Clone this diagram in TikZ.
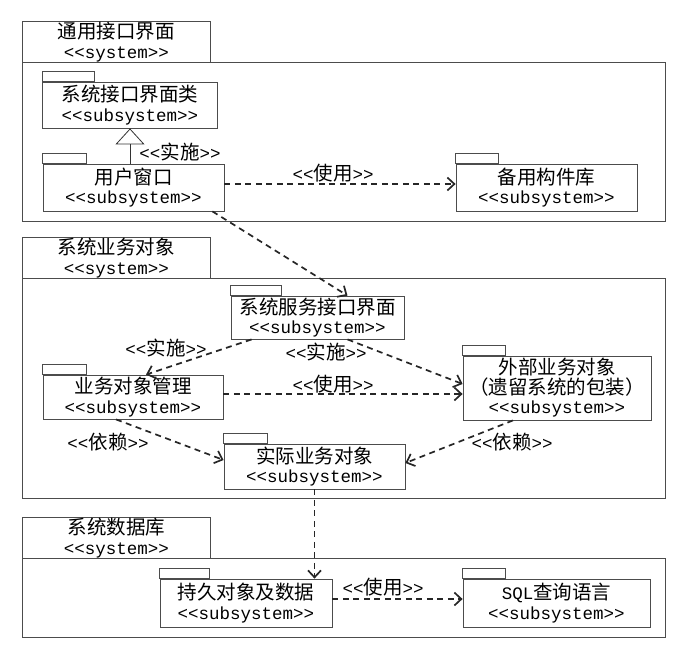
\documentclass[tikz,border=0pt]{standalone}
\usepackage{fontspec}
\newfontfamily\cjk{Noto Sans CJK SC}
\newfontfamily\mono{Liberation Mono}
\usetikzlibrary{arrows.meta}
\newcommand{\lat}{\mono\fontsize{17.5}{19}\selectfont}
\newcommand{\subsys}{{\lat<\kern0pt<subsystem>\kern0pt>}}
\newcommand{\systag}{{\lat<\kern0pt<system>\kern0pt>}}
\newcommand{\rel}[1]{{\lat<\kern0pt<}#1{\lat>\kern0pt>}}
\begin{document}
\begin{tikzpicture}[x=1pt,y=-1pt,
    pkg/.style={draw=black!70,line width=0.8pt,fill=white,align=center,inner sep=0pt,
      font=\cjk\fontsize{19.5}{19.5}\selectfont},
    systab/.style={draw=black!70,line width=0.8pt,align=center,inner sep=0pt,
      minimum width=188pt,font=\cjk\fontsize{19.5}{20}\selectfont},
    frame/.style={draw=black!70,line width=0.8pt},
    tag/.style={inner sep=0pt,font=\cjk\fontsize{19.5}{19.5}\selectfont},
    use/.style={draw=black!85,line width=1.7pt,dash pattern=on 6pt off 4.5pt,
      -{Straight Barb[length=7pt,width=13pt,line width=1.7pt]}},
    impl/.style={draw=black!80,line width=0.8pt,
      -{Triangle[open,length=16pt,width=29pt]}}]
    \useasboundingbox (0,0) rectangle (696,651);

    % systems
    \foreach \n/\t/\b/\s in {s1/21/221/通用接口界面, s2/237/498/系统业务对象, s3/517/637/系统数据库}{
      \node[systab,anchor=north west,minimum height=41pt] (\n) at (22,\t) {\s\\\systag};
      \draw[frame] (\n.south west) rectangle (665,\b);
    }

    % packages
    \node[pkg,minimum width=175pt,minimum height=46pt] (ifc) at (130,105) {系统接口界面类\\\subsys};
    \node[pkg,minimum width=181pt,minimum height=47pt] (win) at (133.5,187.5) {用户窗口\\\subsys};
    \node[pkg,minimum width=181pt,minimum height=47pt] (lib) at (546.5,187.5) {备用构件库\\\subsys};
    \node[pkg,minimum width=173pt,minimum height=43pt] (svc) at (317.5,317.5) {系统服务接口界面\\\subsys};
    \node[pkg,minimum width=180pt,minimum height=44pt] (mgr) at (133,397) {业务对象管理\\\subsys};
    \node[pkg,minimum width=188pt,minimum height=64pt] (ext) at (557,388) {外部业务对象\\（遗留系统的包装）\\\subsys};
    \node[pkg,minimum width=181pt,minimum height=45pt] (obj) at (314.5,466.5) {实际业务对象\\\subsys};
    \node[pkg,minimum width=172pt,minimum height=48pt] (dat) at (246,603) {持久对象及数据\\\subsys};
    \node[pkg,minimum width=187pt,minimum height=48pt] (sql) at (556.5,603) {{\lat SQL}查询语言\\\subsys};
    \foreach \p/\w in {ifc/52,win/44,lib/43,svc/51,mgr/44,ext/43,obj/44,dat/50,sql/43}{
      \draw[frame] (\p.north west) rectangle ++(\w,-10);
    }

    % connectors
    \draw[impl] (ifc.south |- win.north) -- (ifc.south);
    \coordinate (u1) at ([yshift=3.5pt]win.east);
    \draw[use] (u1) -- (u1 -| lib.west);
    \draw[use] ([xshift=-12pt]win.south east) -- ([xshift=30pt]svc.north);
    \draw[use] ([xshift=21pt]svc.south west) -- ([xshift=13pt]mgr.north);
    \draw[use] ([xshift=30pt]svc.south) -- ([yshift=4pt]ext.west);
    \coordinate (u2) at ([yshift=3pt]mgr.east);
    \draw[use] (u2) -- (u2 -| ext.west);
    \draw[use] ([xshift=-17pt]mgr.south) -- ([yshift=6.5pt]obj.west);
    \draw[use] ([xshift=-44pt]ext.south) -- ([yshift=3.5pt]obj.east);
    \draw[use] (obj.south) -- (obj.south |- dat.north);
    \coordinate (u3) at ([yshift=4pt]dat.east);
    \draw[use] (u3) -- (u3 -| sql.west);

    % labels
    \node[tag] (l1) at (180,152) {\rel{实施}};
    \node[tag] (l2) at (333,173) {\rel{使用}};
    \node[tag] (l3) at (166,348) {\rel{实施}};
    \node[tag] (l4) at (326,352) {\rel{实施}};
    \node[tag] (l5) at (333,384) {\rel{使用}};
    \node[tag] (l6) at (108,442) {\rel{依赖}};
    \node[tag] (l7) at (512,442) {\rel{依赖}};
    \node[tag] (l8) at (383,587) {\rel{使用}};
  \end{tikzpicture}
\end{document}
